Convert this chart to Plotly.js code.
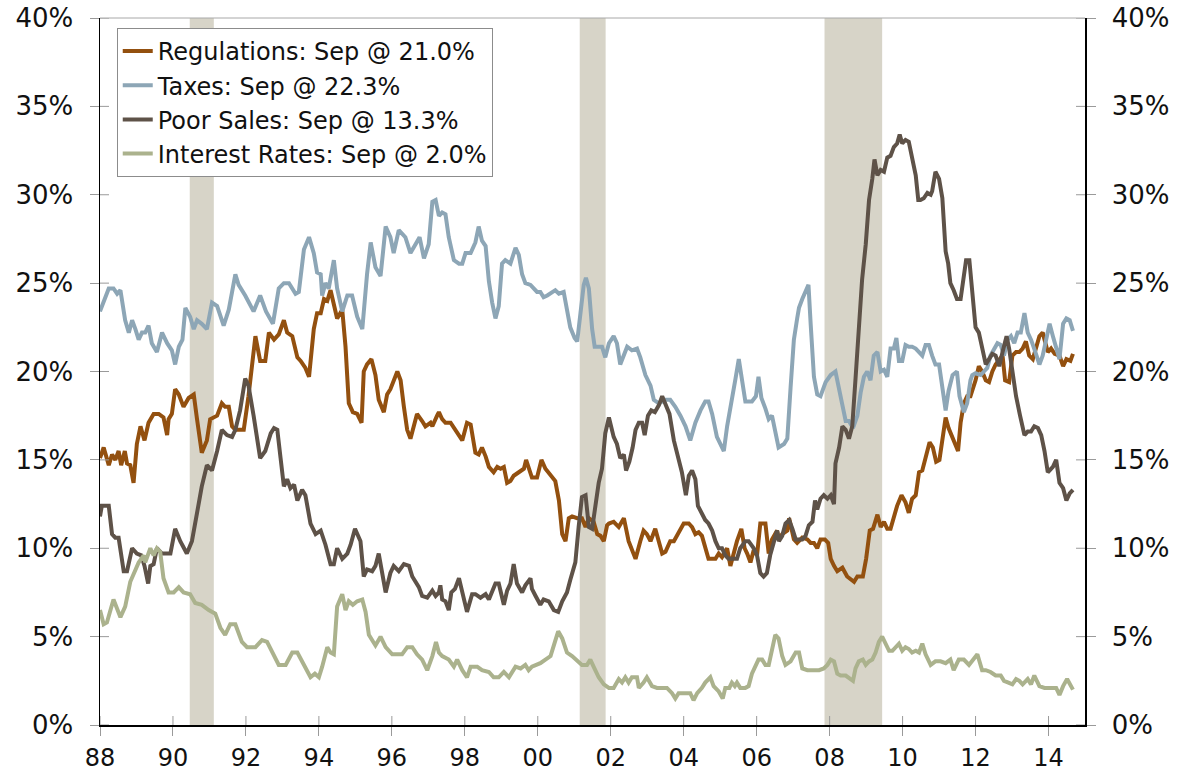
<!DOCTYPE html>
<html><head><meta charset="utf-8">
<script src="https://cdn.plot.ly/plotly-3.0.1.min.js"></script>
<style>html,body{margin:0;padding:0;background:#fff;}#chart{width:1190px;height:774px;}</style>
</head><body><div id="chart"></div>
<script>
// [decimal year, percent]
const regulations = [[1988.00,15.1],[1988.10,15.7],[1988.24,14.7],[1988.33,15.3],[1988.42,15.0],[1988.51,15.5],[1988.58,14.7],[1988.68,15.5],[1988.74,14.8],[1988.83,14.7],[1988.92,13.7],[1989.01,15.9],[1989.11,16.9],[1989.22,16.1],[1989.33,17.1],[1989.47,17.6],[1989.61,17.6],[1989.74,17.4],[1989.84,16.4],[1989.88,17.3],[1989.97,17.6],[1990.06,19.0],[1990.16,18.7],[1990.29,18.0],[1990.43,18.5],[1990.57,18.7],[1990.66,17.3],[1990.79,15.4],[1990.93,16.1],[1991.02,17.3],[1991.21,17.5],[1991.34,18.2],[1991.43,18.0],[1991.53,18.0],[1991.62,16.9],[1991.71,16.7],[1991.94,16.7],[1992.07,18.6],[1992.26,22.0],[1992.39,20.6],[1992.53,20.6],[1992.63,22.2],[1992.77,21.8],[1992.90,22.1],[1993.04,22.9],[1993.13,22.2],[1993.27,22.0],[1993.41,20.8],[1993.50,20.6],[1993.63,20.2],[1993.73,19.7],[1993.86,22.4],[1993.95,23.3],[1994.05,23.3],[1994.14,24.1],[1994.23,24.0],[1994.32,24.6],[1994.41,23.7],[1994.50,23.0],[1994.64,23.5],[1994.73,21.4],[1994.82,18.2],[1994.93,17.7],[1995.05,17.6],[1995.17,17.1],[1995.23,20.0],[1995.32,20.4],[1995.44,20.7],[1995.55,19.8],[1995.64,18.4],[1995.78,17.7],[1995.87,18.7],[1995.96,19.0],[1996.15,20.0],[1996.24,19.5],[1996.33,18.0],[1996.42,16.7],[1996.51,16.2],[1996.69,17.6],[1996.83,17.2],[1996.92,16.9],[1997.06,17.1],[1997.11,16.9],[1997.24,17.5],[1997.29,17.7],[1997.38,17.3],[1997.47,17.1],[1997.61,17.1],[1997.74,16.7],[1997.93,16.1],[1998.06,17.1],[1998.16,17.0],[1998.29,15.4],[1998.38,15.3],[1998.47,15.7],[1998.57,15.2],[1998.66,14.6],[1998.79,14.3],[1998.89,14.6],[1998.98,14.5],[1999.07,14.6],[1999.16,13.7],[1999.25,13.8],[1999.34,14.1],[1999.48,14.3],[1999.62,14.5],[1999.68,15.0],[1999.75,14.6],[1999.84,14.0],[1999.98,14.0],[2000.10,15.0],[2000.21,14.5],[2000.35,14.1],[2000.48,13.8],[2000.58,12.7],[2000.67,10.8],[2000.76,10.4],[2000.85,11.7],[2000.94,11.8],[2001.08,11.7],[2001.21,11.7],[2001.31,11.2],[2001.40,11.7],[2001.53,11.5],[2001.63,10.8],[2001.72,10.7],[2001.81,10.4],[2001.90,11.3],[2001.95,11.4],[2002.08,11.5],[2002.22,11.2],[2002.36,11.7],[2002.49,10.4],[2002.68,9.4],[2002.81,10.4],[2002.90,11.0],[2002.99,10.8],[2003.09,10.4],[2003.22,11.1],[2003.32,10.4],[2003.41,9.7],[2003.50,9.8],[2003.63,10.4],[2003.73,10.4],[2003.86,10.9],[2004.00,11.4],[2004.14,11.4],[2004.23,11.2],[2004.32,10.8],[2004.41,10.9],[2004.50,10.7],[2004.59,10.0],[2004.68,9.4],[2004.87,9.4],[2004.96,9.7],[2005.05,9.5],[2005.19,10.0],[2005.28,9.0],[2005.37,9.8],[2005.46,10.4],[2005.58,11.1],[2005.67,10.0],[2005.74,9.7],[2005.83,9.2],[2005.92,9.9],[2006.01,9.6],[2006.10,11.4],[2006.24,11.4],[2006.33,9.7],[2006.42,10.5],[2006.56,11.0],[2006.61,10.5],[2006.70,10.8],[2006.84,11.0],[2006.89,11.7],[2006.96,11.0],[2007.02,10.5],[2007.11,10.3],[2007.25,10.6],[2007.39,10.5],[2007.48,10.3],[2007.57,10.3],[2007.66,10.0],[2007.75,10.5],[2007.87,10.5],[2007.96,10.3],[2008.03,9.4],[2008.12,9.0],[2008.21,8.7],[2008.35,8.9],[2008.48,8.4],[2008.67,8.1],[2008.76,8.4],[2008.91,8.4],[2009.00,9.4],[2009.10,11.0],[2009.19,11.1],[2009.31,11.9],[2009.40,11.2],[2009.49,11.5],[2009.58,11.1],[2009.67,11.1],[2009.76,11.7],[2009.85,12.4],[2009.97,13.0],[2010.08,12.6],[2010.17,12.0],[2010.26,12.8],[2010.36,13.0],[2010.45,14.3],[2010.54,14.4],[2010.63,15.1],[2010.74,16.0],[2010.83,15.7],[2010.92,14.9],[2011.01,15.0],[2011.09,16.0],[2011.18,17.4],[2011.26,16.8],[2011.35,16.3],[2011.45,15.9],[2011.52,15.5],[2011.59,17.1],[2011.68,18.2],[2011.77,18.6],[2011.86,18.6],[2012.00,19.5],[2012.09,20.3],[2012.18,20.0],[2012.28,19.5],[2012.37,19.4],[2012.46,20.0],[2012.55,20.4],[2012.65,20.7],[2012.74,20.9],[2012.81,19.5],[2012.92,19.4],[2013.01,20.9],[2013.11,21.1],[2013.20,21.1],[2013.29,21.3],[2013.38,21.7],[2013.47,20.9],[2013.57,20.7],[2013.66,21.3],[2013.75,22.0],[2013.84,22.2],[2013.92,21.6],[2013.98,21.1],[2014.07,21.3],[2014.17,21.0],[2014.30,20.9],[2014.40,20.3],[2014.49,20.7],[2014.60,20.6],[2014.67,21.0]];

const taxes = [[1988.00,23.4],[1988.24,24.7],[1988.37,24.7],[1988.47,24.4],[1988.56,24.6],[1988.69,22.9],[1988.79,22.2],[1988.88,22.9],[1988.97,22.4],[1989.06,21.8],[1989.15,22.2],[1989.24,22.2],[1989.33,22.6],[1989.42,21.6],[1989.56,21.1],[1989.70,22.2],[1989.84,21.6],[1989.97,21.2],[1990.06,20.4],[1990.16,21.4],[1990.26,21.8],[1990.34,23.6],[1990.47,23.1],[1990.57,22.4],[1990.66,22.9],[1990.79,22.7],[1990.93,22.4],[1991.07,23.9],[1991.21,23.7],[1991.39,22.6],[1991.53,23.5],[1991.71,25.5],[1991.80,24.9],[1991.98,24.3],[1992.21,23.4],[1992.39,24.3],[1992.55,23.4],[1992.74,22.7],[1992.90,24.7],[1993.04,25.0],[1993.18,25.0],[1993.36,24.4],[1993.45,24.5],[1993.59,26.9],[1993.73,27.6],[1993.86,26.7],[1993.95,25.6],[1994.05,25.5],[1994.09,24.3],[1994.18,25.0],[1994.27,24.7],[1994.41,26.3],[1994.50,24.7],[1994.64,23.4],[1994.78,24.3],[1994.91,24.3],[1995.05,23.1],[1995.19,22.4],[1995.32,25.5],[1995.42,27.3],[1995.55,25.9],[1995.69,25.4],[1995.83,28.2],[1995.96,27.6],[1996.05,26.7],[1996.19,28.0],[1996.37,27.6],[1996.51,26.7],[1996.65,27.2],[1996.76,27.6],[1996.88,26.4],[1997.01,27.2],[1997.11,29.6],[1997.20,29.7],[1997.29,28.8],[1997.38,29.0],[1997.47,28.9],[1997.56,27.6],[1997.70,26.3],[1997.84,26.1],[1997.93,26.1],[1998.02,26.7],[1998.16,26.7],[1998.29,27.3],[1998.38,28.2],[1998.47,27.4],[1998.57,27.1],[1998.66,25.1],[1998.75,23.9],[1998.84,23.0],[1998.93,23.7],[1999.02,26.1],[1999.11,26.3],[1999.25,26.1],[1999.39,27.0],[1999.48,26.6],[1999.57,25.5],[1999.66,25.0],[1999.80,24.9],[1999.89,24.7],[1999.98,24.5],[2000.07,24.5],[2000.16,24.2],[2000.26,24.3],[2000.39,24.5],[2000.48,24.6],[2000.58,24.4],[2000.71,24.5],[2000.80,23.5],[2000.89,22.5],[2001.01,21.9],[2001.08,21.7],[2001.17,23.3],[2001.26,24.9],[2001.32,25.3],[2001.40,24.7],[2001.49,22.4],[2001.56,21.4],[2001.67,21.4],[2001.76,21.4],[2001.85,20.8],[2001.95,21.6],[2002.08,22.0],[2002.17,21.6],[2002.26,20.4],[2002.36,21.0],[2002.45,21.4],[2002.58,21.2],[2002.72,21.3],[2002.81,20.8],[2002.95,19.8],[2003.09,19.2],[2003.18,18.4],[2003.32,18.2],[2003.50,18.4],[2003.63,18.4],[2003.77,18.0],[2003.91,17.5],[2004.05,16.9],[2004.18,16.1],[2004.32,17.1],[2004.46,17.8],[2004.59,18.3],[2004.68,18.3],[2004.78,17.6],[2004.91,16.3],[2005.00,15.9],[2005.10,15.5],[2005.19,16.9],[2005.32,18.6],[2005.42,19.6],[2005.51,20.7],[2005.60,19.4],[2005.69,18.3],[2005.87,18.3],[2005.98,18.6],[2006.05,19.7],[2006.13,18.5],[2006.24,17.9],[2006.33,17.3],[2006.42,17.5],[2006.51,16.7],[2006.60,15.7],[2006.75,15.9],[2006.84,16.2],[2006.93,19.1],[2007.02,21.8],[2007.11,23.0],[2007.16,23.6],[2007.25,24.1],[2007.34,24.6],[2007.42,24.9],[2007.48,22.7],[2007.57,19.7],[2007.66,18.7],[2007.75,18.6],[2007.89,19.4],[2008.03,19.8],[2008.16,20.0],[2008.26,19.1],[2008.35,18.1],[2008.44,17.2],[2008.53,17.2],[2008.64,16.8],[2008.76,17.5],[2008.85,18.8],[2008.94,19.7],[2009.03,20.0],[2009.12,19.5],[2009.21,20.9],[2009.31,21.1],[2009.40,20.0],[2009.49,20.1],[2009.58,19.7],[2009.67,21.3],[2009.76,21.3],[2009.83,21.9],[2009.90,20.6],[2009.99,20.6],[2010.08,21.5],[2010.17,21.4],[2010.26,21.4],[2010.36,21.3],[2010.45,21.1],[2010.54,20.9],[2010.63,21.5],[2010.72,21.5],[2010.81,20.9],[2010.90,20.4],[2011.00,20.4],[2011.09,19.1],[2011.18,17.8],[2011.26,18.9],[2011.37,19.8],[2011.49,20.0],[2011.56,18.6],[2011.68,17.7],[2011.77,18.2],[2011.86,19.5],[2011.91,19.8],[2012.00,19.9],[2012.14,19.8],[2012.23,20.0],[2012.32,20.2],[2012.41,20.9],[2012.51,21.3],[2012.60,21.6],[2012.69,21.5],[2012.78,20.9],[2012.88,21.8],[2012.97,22.0],[2013.06,21.6],[2013.15,22.2],[2013.24,22.2],[2013.34,23.3],[2013.43,22.2],[2013.52,21.8],[2013.64,21.1],[2013.75,20.4],[2013.84,20.9],[2013.94,22.0],[2014.03,22.7],[2014.12,22.0],[2014.21,21.3],[2014.30,20.7],[2014.40,22.7],[2014.49,23.0],[2014.58,22.9],[2014.67,22.3]];

const poorSales = [[1988.00,11.8],[1988.05,12.4],[1988.24,12.4],[1988.33,10.8],[1988.42,10.6],[1988.51,10.6],[1988.65,8.7],[1988.74,8.7],[1988.88,10.0],[1989.01,9.7],[1989.13,9.6],[1989.22,9.0],[1989.32,8.0],[1989.38,9.0],[1989.47,9.1],[1989.56,10.0],[1989.70,9.7],[1989.84,9.7],[1989.93,9.7],[1990.06,11.1],[1990.20,10.4],[1990.38,9.7],[1990.52,10.4],[1990.66,12.0],[1990.79,13.5],[1990.93,14.7],[1991.07,14.4],[1991.21,15.5],[1991.34,16.7],[1991.48,16.4],[1991.62,16.3],[1991.71,16.7],[1991.84,17.8],[1991.98,19.6],[1992.07,19.2],[1992.21,17.5],[1992.39,15.1],[1992.53,15.5],[1992.60,16.0],[1992.68,16.5],[1992.77,16.8],[1992.86,16.7],[1992.95,15.1],[1993.04,13.5],[1993.13,13.9],[1993.22,13.4],[1993.32,13.6],[1993.41,12.7],[1993.54,13.3],[1993.63,13.0],[1993.77,11.4],[1993.91,10.8],[1994.05,11.0],[1994.18,10.2],[1994.32,9.1],[1994.41,9.1],[1994.50,10.0],[1994.64,9.4],[1994.78,9.7],[1994.87,10.2],[1994.99,11.1],[1995.14,10.4],[1995.23,8.4],[1995.32,8.8],[1995.46,8.7],[1995.55,9.0],[1995.64,9.7],[1995.74,8.6],[1995.83,7.5],[1995.96,8.6],[1996.05,9.0],[1996.19,8.7],[1996.33,9.1],[1996.47,9.0],[1996.56,8.4],[1996.74,7.8],[1996.83,7.3],[1996.97,7.2],[1997.11,7.6],[1997.20,7.3],[1997.29,7.5],[1997.33,7.9],[1997.38,7.1],[1997.47,7.0],[1997.56,6.5],[1997.63,7.5],[1997.73,7.7],[1997.84,8.3],[1997.93,7.5],[1998.06,6.4],[1998.20,7.4],[1998.29,7.4],[1998.43,7.2],[1998.57,7.4],[1998.66,7.1],[1998.75,7.5],[1998.84,8.0],[1998.93,8.0],[1999.07,6.8],[1999.16,7.6],[1999.25,8.0],[1999.34,9.1],[1999.43,8.0],[1999.57,7.5],[1999.66,7.9],[1999.80,8.3],[1999.84,7.7],[1999.94,7.3],[2000.07,6.8],[2000.16,7.1],[2000.30,7.0],[2000.44,6.5],[2000.56,6.4],[2000.67,7.0],[2000.80,7.5],[2000.89,8.2],[2001.03,9.2],[2001.12,11.2],[2001.21,12.9],[2001.31,13.0],[2001.40,11.2],[2001.49,11.1],[2001.58,12.4],[2001.67,13.7],[2001.76,14.5],[2001.85,16.5],[2001.95,17.4],[2002.02,16.8],[2002.08,16.3],[2002.17,15.9],[2002.26,15.1],[2002.36,15.3],[2002.42,14.4],[2002.51,14.9],[2002.60,15.7],[2002.68,16.7],[2002.77,17.1],[2002.86,17.1],[2002.93,16.4],[2003.02,17.5],[2003.11,17.8],[2003.21,17.7],[2003.32,18.1],[2003.41,18.6],[2003.50,18.2],[2003.61,17.6],[2003.73,16.1],[2003.82,15.3],[2003.95,14.3],[2004.06,13.0],[2004.14,14.1],[2004.23,14.4],[2004.32,13.9],[2004.39,12.4],[2004.50,11.9],[2004.59,11.6],[2004.68,11.4],[2004.78,11.0],[2004.87,10.4],[2004.96,10.0],[2005.05,10.0],[2005.14,9.6],[2005.23,9.4],[2005.32,9.4],[2005.46,9.4],[2005.55,10.0],[2005.69,10.4],[2005.78,10.4],[2005.92,10.0],[2006.01,9.6],[2006.10,8.6],[2006.19,8.4],[2006.28,8.6],[2006.37,9.6],[2006.47,10.4],[2006.56,11.0],[2006.61,10.4],[2006.70,10.7],[2006.79,11.4],[2006.89,11.6],[2006.98,11.1],[2007.07,10.5],[2007.16,10.5],[2007.25,10.5],[2007.34,10.7],[2007.43,11.3],[2007.53,11.5],[2007.60,12.7],[2007.66,12.2],[2007.75,12.8],[2007.84,13.0],[2007.94,12.8],[2008.03,13.0],[2008.12,12.5],[2008.16,14.8],[2008.26,15.7],[2008.35,16.9],[2008.44,16.7],[2008.53,16.2],[2008.62,16.9],[2008.71,19.6],[2008.80,22.3],[2008.89,25.2],[2008.99,27.2],[2009.08,29.7],[2009.17,30.9],[2009.23,32.0],[2009.31,31.1],[2009.40,31.4],[2009.49,31.3],[2009.58,32.1],[2009.67,32.2],[2009.76,32.7],[2009.85,32.9],[2009.92,33.4],[2009.99,32.9],[2010.08,33.1],[2010.17,33.0],[2010.26,32.2],[2010.36,31.1],[2010.43,29.7],[2010.49,29.7],[2010.58,29.8],[2010.68,30.1],[2010.77,30.0],[2010.81,30.2],[2010.90,31.3],[2011.00,30.9],[2011.09,29.8],[2011.18,26.8],[2011.25,26.1],[2011.31,25.0],[2011.40,24.6],[2011.49,24.1],[2011.59,24.1],[2011.68,25.6],[2011.74,26.3],[2011.83,26.3],[2011.91,24.7],[2012.00,22.5],[2012.09,22.2],[2012.18,21.3],[2012.28,20.4],[2012.37,20.7],[2012.46,21.0],[2012.55,20.9],[2012.65,20.3],[2012.74,21.1],[2012.85,22.0],[2012.92,21.3],[2013.01,20.0],[2013.11,18.6],[2013.22,17.5],[2013.34,16.4],[2013.43,16.6],[2013.52,16.6],[2013.61,16.9],[2013.71,16.8],[2013.80,16.4],[2013.89,15.5],[2013.98,14.3],[2014.12,14.6],[2014.21,15.0],[2014.30,13.7],[2014.40,13.4],[2014.49,12.7],[2014.58,13.1],[2014.67,13.3]];

const interestRates = [[1988.00,6.5],[1988.10,5.7],[1988.19,5.8],[1988.37,7.1],[1988.56,6.1],[1988.69,6.7],[1988.83,8.1],[1988.97,8.7],[1989.06,9.2],[1989.20,9.6],[1989.24,9.2],[1989.38,10.0],[1989.47,9.6],[1989.56,10.0],[1989.65,9.8],[1989.74,8.3],[1989.88,7.5],[1990.02,7.5],[1990.16,7.8],[1990.29,7.5],[1990.47,7.4],[1990.61,6.9],[1990.79,6.8],[1990.98,6.5],[1991.16,6.3],[1991.30,5.5],[1991.43,5.1],[1991.57,5.7],[1991.71,5.7],[1991.89,4.7],[1992.03,4.4],[1992.26,4.4],[1992.44,4.8],[1992.58,4.7],[1992.72,4.1],[1992.90,3.4],[1993.09,3.4],[1993.27,4.1],[1993.41,4.1],[1993.59,3.4],[1993.77,2.7],[1993.89,2.9],[1994.00,2.7],[1994.09,3.3],[1994.23,4.4],[1994.32,4.1],[1994.41,4.0],[1994.50,6.7],[1994.64,7.4],[1994.73,6.5],[1994.82,7.0],[1994.93,6.8],[1995.05,7.0],[1995.19,7.1],[1995.28,6.4],[1995.37,5.1],[1995.55,4.5],[1995.69,5.0],[1995.83,4.4],[1996.01,4.0],[1996.28,4.0],[1996.42,4.4],[1996.56,4.4],[1996.69,4.0],[1996.83,3.7],[1996.97,3.1],[1997.11,3.9],[1997.21,4.7],[1997.29,4.1],[1997.38,3.9],[1997.56,3.7],[1997.70,3.3],[1997.79,3.7],[1997.93,3.1],[1998.06,2.7],[1998.16,3.3],[1998.34,3.3],[1998.47,3.1],[1998.66,3.0],[1998.79,2.7],[1998.93,2.7],[1999.07,3.0],[1999.21,2.7],[1999.39,3.3],[1999.53,3.2],[1999.66,3.4],[1999.75,3.1],[1999.84,3.3],[1999.98,3.4],[2000.07,3.5],[2000.21,3.7],[2000.35,3.9],[2000.47,4.7],[2000.56,5.3],[2000.67,4.9],[2000.80,4.1],[2000.94,3.9],[2001.08,3.6],[2001.21,3.4],[2001.35,3.4],[2001.44,3.7],[2001.53,3.3],[2001.67,2.7],[2001.81,2.3],[2001.95,2.1],[2002.08,2.1],[2002.22,2.6],[2002.31,2.4],[2002.40,2.7],[2002.49,2.4],[2002.58,2.7],[2002.72,2.7],[2002.77,2.1],[2002.90,2.4],[2002.99,2.7],[2003.13,2.2],[2003.27,2.1],[2003.41,2.1],[2003.54,2.1],[2003.68,1.8],[2003.77,1.5],[2003.86,1.8],[2004.05,1.8],[2004.18,1.8],[2004.27,1.4],[2004.37,1.8],[2004.50,2.1],[2004.59,2.4],[2004.73,2.7],[2004.82,2.2],[2004.96,1.9],[2005.07,1.5],[2005.14,2.1],[2005.25,2.1],[2005.32,2.4],[2005.40,2.2],[2005.46,2.4],[2005.55,2.1],[2005.69,2.1],[2005.78,2.2],[2005.87,2.9],[2005.96,3.3],[2006.05,3.7],[2006.15,3.7],[2006.24,3.4],[2006.33,3.4],[2006.42,4.4],[2006.51,5.1],[2006.60,4.9],[2006.66,4.4],[2006.70,3.9],[2006.79,3.4],[2006.93,3.6],[2007.07,4.1],[2007.16,4.1],[2007.25,3.2],[2007.39,3.1],[2007.53,3.1],[2007.71,3.1],[2007.84,3.2],[2007.94,3.4],[2008.03,3.7],[2008.12,3.6],[2008.21,2.9],[2008.30,2.8],[2008.44,2.8],[2008.55,2.6],[2008.64,2.5],[2008.71,3.2],[2008.80,3.6],[2008.91,3.7],[2008.99,3.4],[2009.08,3.6],[2009.17,3.7],[2009.26,4.1],[2009.35,4.7],[2009.44,5.0],[2009.53,4.6],[2009.63,4.2],[2009.72,4.2],[2009.81,4.4],[2009.90,4.6],[2009.99,4.2],[2010.08,4.4],[2010.17,4.3],[2010.26,4.1],[2010.36,4.2],[2010.45,4.1],[2010.54,4.6],[2010.63,4.0],[2010.77,3.4],[2010.90,3.6],[2011.04,3.6],[2011.18,3.5],[2011.31,3.7],[2011.40,3.1],[2011.54,3.7],[2011.68,3.7],[2011.82,3.4],[2011.95,3.7],[2012.05,4.0],[2012.18,3.1],[2012.28,3.1],[2012.41,3.0],[2012.55,2.8],[2012.69,2.8],[2012.78,2.5],[2012.90,2.4],[2013.01,2.3],[2013.11,2.6],[2013.20,2.5],[2013.29,2.3],[2013.43,2.6],[2013.52,2.3],[2013.61,2.8],[2013.75,2.2],[2013.89,2.1],[2014.07,2.1],[2014.21,2.1],[2014.30,1.7],[2014.40,2.2],[2014.51,2.6],[2014.60,2.3],[2014.67,2.0]];

const seriesNames = ["Regulations: Sep @ 21.0%", "Taxes: Sep @ 22.3%", "Poor Sales: Sep @ 13.3%", "Interest Rates: Sep @ 2.0%"];
const recessionStart = [1990.46, 2001.15, 2007.86];
const recessionEnd = [1991.12, 2001.86, 2009.44];
const yearTicks = [1988,1990,1992,1994,1996,1998,2000,2002,2004,2006,2008,2010,2012,2014];
const yearTickLabels = ["88","90","92","94","96","98","00","02","04","06","08","10","12","14"];
const pctTicks = [0,5,10,15,20,25,30,35,40];
const pctTickLabels = ["0%","5%","10%","15%","20%","25%","30%","35%","40%"];

const colors = ["#93500F", "#8DA6B6", "#5E5248", "#ABB28D"];
const allSeries = [regulations, taxes, poorSales, interestRates];
const xRange = [1988, 2015], yRange = [0, 40];

const traces = allSeries.map((s, i) => ({
  type: "scatter", mode: "lines",
  x: s.map(p => p[0]), y: s.map(p => p[1]),
  name: seriesNames[i],
  line: {color: colors[i], width: 4},
  hoverinfo: "skip"
}));
// empty helper trace so the right-hand axis is drawn
traces.push({type:"scatter", x:[], y:[], yaxis:"y2", showlegend:false, hoverinfo:"skip"});

const tickCol = "#9A9A9A";
const shapes = recessionStart.map((s, i) => ({
  type: "rect", xref: "x", yref: "paper", x0: s, x1: recessionEnd[i], y0: 0, y1: 1,
  fillcolor: "#D7D4C8", line: {width: 0}, layer: "below"
}));
// top frame line
shapes.push({type:"line", xref:"paper", yref:"paper", x0:0, x1:1, y0:1, y1:1, line:{color:"#A8A8A8", width:1}, layer:"above"});
// inner halves of the crossing tick marks (ticks straddle the axis lines)
const W = 1190 - 100 - 105, H = 774 - 18 - 49, inLen = 9;
pctTicks.forEach(v => {
  shapes.push({type:"line", xref:"paper", yref:"y", x0:0, x1:inLen/W, y0:v, y1:v, line:{color:tickCol, width:1}, layer:"above"});
  shapes.push({type:"line", xref:"paper", yref:"y", x0:1-inLen/W, x1:1, y0:v, y1:v, line:{color:tickCol, width:1}, layer:"above"});
});
yearTicks.forEach(v => {
  shapes.push({type:"line", xref:"x", yref:"paper", x0:v, x1:v, y0:0, y1:inLen/H, line:{color:tickCol, width:1}, layer:"above"});
});

const yCommon = {range:yRange, tickmode:"array", tickvals:pctTicks, ticktext:pctTickLabels, showgrid:false, zeroline:false,
  fixedrange:true, ticks:"outside", ticklen:9, tickwidth:1, tickcolor:tickCol, showline:true, linecolor:"#000",
  linewidth:1.5, ticklabelstandoff:11, tickfont:{size:26, color:"#111111"}};
const layout = {
  width: 1190, height: 774,
  margin: {l:100, r:105, t:18, b:49, pad:0},
  paper_bgcolor: "#ffffff", plot_bgcolor: "#ffffff",
  font: {family: "DejaVu Sans", size: 24, color: "#111111"},
  showlegend: true,
  legend: {x: 0.017, y: 0.986, xanchor: "left", yanchor: "top", bgcolor: "#ffffff",
           bordercolor: "#8C8C8C", borderwidth: 1, font: {size: 24, color: "#111111"},
           itemwidth: 30, tracegroupgap: 0},
  xaxis: {range:xRange, tickmode:"array", tickvals:yearTicks, ticktext:yearTickLabels,
          ticks:"outside", ticklen:9, tickwidth:1, tickcolor:tickCol, showline:true, linecolor:"#000",
          linewidth:1.5, showgrid:false, zeroline:false, fixedrange:true, ticklabelstandoff:2,
          tickfont:{size:24, color:"#111111"}},
  yaxis: Object.assign({}, yCommon),
  yaxis2: Object.assign({}, yCommon, {overlaying:"y", side:"right", anchor:"x"}),
  shapes: shapes
};

Plotly.newPlot("chart", traces, layout, {staticPlot: true, displayModeBar: false});
</script>
</body></html>
